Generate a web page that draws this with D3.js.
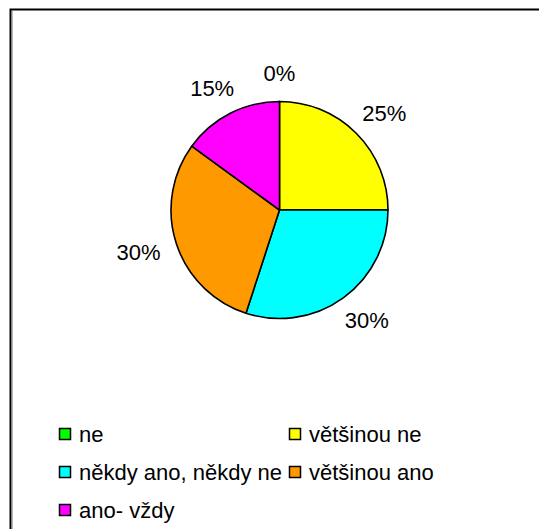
<!DOCTYPE html>
<html>
<head>
<meta charset="utf-8">
<script src="https://cdn.jsdelivr.net/npm/d3@7"></script>
<style>
  html, body { margin: 0; padding: 0; background: #fff; }
  svg { display: block; }
  text { font-family: Arial, "Liberation Sans", sans-serif; fill: #000; }
</style>
</head>
<body>
<svg id="chart" width="539" height="529"></svg>
<script>
// Answer categories, their shares (%) and slice colours
const categories = ["ne", "většinou ne", "někdy ano, někdy ne", "většinou ano", "ano- vždy"];
const shares = [0, 25, 30, 30, 15];
const colors = ["#00ff00", "#ffff00", "#00ffff", "#ff9900", "#ff00ff"];

const svg = d3.select("#chart");
const W = 539, H = 529;

// chart frame (extends past the right and bottom edges)
svg.append("rect")
  .attr("x", 10.5).attr("y", 9.5)
  .attr("width", 560).attr("height", 560)
  .attr("fill", "#fff")
  .attr("stroke", "#000").attr("stroke-width", 2);
svg.append("line")
  .attr("x1", 12.5).attr("x2", 12.5).attr("y1", 11).attr("y2", H)
  .attr("stroke", "#bbb").attr("stroke-width", 1);

const cx = 279.5, cy = 210, r = 108.5;
const data = categories.map((c, i) => ({ cat: c, value: shares[i], color: colors[i] }));

const pie = d3.pie().value(d => d.value).sort(null);
const arc = d3.arc().innerRadius(0).outerRadius(r);
const arcs = pie(data);

const g = svg.append("g").attr("transform", `translate(${cx},${cy})`);
g.selectAll("path")
  .data(arcs)
  .join("path")
  .attr("d", arc)
  .attr("fill", d => d.data.color)
  .attr("stroke", "#000")
  .attr("stroke-width", 1.6)
  .attr("stroke-linejoin", "round");

// percentage labels placed just outside the rim, pushed out by their own box size
const fs = 22, gap = 20;
const fmt = v => v + "%";
g.selectAll("text.lbl")
  .data(arcs)
  .join("text")
  .attr("class", "lbl")
  .attr("font-size", fs)
  .attr("text-anchor", "middle")
  .attr("dominant-baseline", "central")
  .text(d => fmt(d.data.value))
  .each(function(d) {
    const a = (d.startAngle + d.endAngle) / 2;
    const w = this.getComputedTextLength();
    const h = fs * 0.72;
    const sx = Math.sin(a), sy = -Math.cos(a);
    const x = sx * (r + gap) + sx * w * 0.45;
    const y = sy * (r + gap) + sy * h / 2;
    d3.select(this).attr("x", x).attr("y", y);
  });

// legend: two columns, rows filled left to right
const legX = [59, 289], legY0 = 434, legDy = 38, box = 12;
const leg = svg.append("g");
const items = leg.selectAll("g")
  .data(data)
  .join("g")
  .attr("transform", (d, i) => `translate(${legX[i % 2]},${legY0 + Math.floor(i / 2) * legDy})`);
items.append("rect")
  .attr("x", 0.5).attr("y", -box / 2 + 0.5)
  .attr("width", box - 1).attr("height", box - 1)
  .attr("fill", d => d.color)
  .attr("stroke", "#000").attr("stroke-width", 1.5);
items.append("text")
  .attr("x", 20).attr("y", 0)
  .attr("font-size", fs)
  .attr("dominant-baseline", "central")
  .text(d => d.cat);
</script>
</body>
</html>
